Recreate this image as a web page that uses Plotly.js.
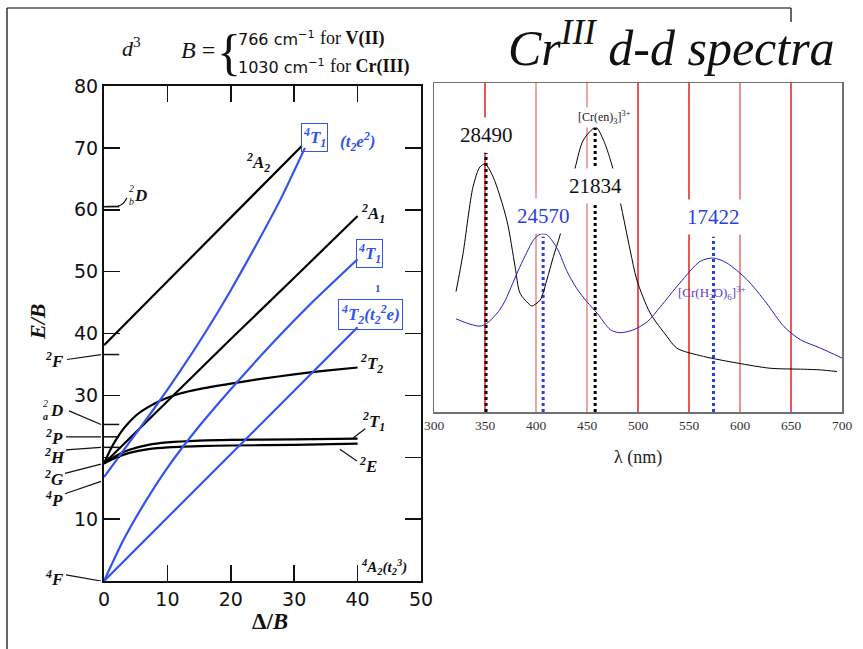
<!DOCTYPE html>
<html><head><meta charset="utf-8">
<script src="https://cdn.plot.ly/plotly-3.0.1.min.js"></script>
<style>html,body{margin:0;padding:0;background:#fff;}#chart{width:863px;height:649px;}</style>
</head><body><div id="chart"></div>
<script>
// ---------- Tanabe–Sugano d3 diagram (x = Δ/B, y = E/B) ----------
const a2_2X = [0, 31.2];
const a2_2E = [38.1, 70.3];
const t1p_4X = [0, 4, 8, 12, 16, 20, 24, 28, 31.7];
const t1p_4E = [16.8, 22.4, 28.0, 33.9, 40.2, 47.0, 54.3, 62.0, 70.0];
const a1_2X = [0, 10, 20, 30, 40];
const a1_2E = [19, 29.1, 39.1, 49, 59];
const t1f_4X = [0, 3, 6.7, 10, 15, 20, 27, 33, 40];
const t1f_4E = [0, 6.5, 13.1, 18.3, 25, 31, 38.9, 45.2, 52];
const t2_4X = [0, 40];
const t2_4E = [0, 41];
const t2_2X = [0, 1, 2, 3, 4, 5, 6, 8, 10, 12, 15, 20, 25, 30, 35, 40];
const t2_2E = [19, 21.2, 23.0, 24.5, 25.7, 26.7, 27.5, 28.7, 29.6, 30.3, 31.0, 31.9, 32.7, 33.4, 34.0, 34.5];
const t1_2X = [0, 2, 4, 7, 10, 15, 20, 30, 40];
const t1_2E = [19, 20.3, 21.2, 22, 22.4, 22.7, 22.8, 22.9, 23.0];
const e_2X = [0, 2, 4, 7, 10, 15, 20, 30, 40];
const e_2E = [19, 20, 20.7, 21.3, 21.6, 21.8, 21.9, 22, 22.2];
// free-ion terms at Δ = 0
const termNames = ['<sup>2</sup>F', 'D', '<sup>2</sup>P', '<sup>2</sup>H', '<sup>2</sup>G', '<sup>4</sup>P', '<sup>4</sup>F'];
const termE = [36.6, 25.3, 23.3, 21.6, 18.9, 16.1, 0];
const term2bD_E = 60.5;
const tsXTicks = [0, 10, 20, 30, 40, 50];
const tsYTicks = [0, 10, 20, 30, 40, 50, 60, 70, 80];
const tsYTickText = ['', '10', '', '30', '40', '50', '60', '70', '80'];

// ---------- Absorption spectra (λ in nm, arbitrary absorbance units) ----------
const enNm = [321.6, 328.5, 338.3, 345.1, 350, 357.9, 371.3, 379.5, 384.4, 394.2, 395.9, 404, 410.6, 417, 423.6, 438.3, 446.5, 458.6, 466.1, 475.3, 482.5, 492.3, 498.9, 511.9, 528.3, 538.1, 564.2, 597, 629.6, 662.3, 678.7, 695.1];
const enAbs = [36.6, 48.2, 68.5, 74.5, 75.4, 71.5, 58.4, 44.2, 36.1, 32.5, 32.2, 34, 40.1, 47.2, 53.8, 74.1, 82.7, 86.5, 82.7, 74.1, 64, 49.2, 40.1, 30.1, 23, 19.4, 16.9, 14.9, 13.3, 13, 12.8, 12.3];
const aqNm = [321.6, 335.3, 345.1, 351.7, 363.1, 370, 377, 384, 391, 398, 404, 410, 416, 422, 430, 440, 450, 460, 473, 482, 495, 509, 522, 541, 561, 574, 587, 607, 626, 643, 659, 679, 700];
const aqAbs = [28.3, 26.7, 26.1, 26.9, 30.5, 34, 39, 44, 48.5, 52.5, 54, 54, 52, 49, 43, 37.5, 33.5, 30, 25, 24.1, 24.9, 27.4, 32, 39.2, 45.8, 46.8, 45.3, 40.2, 33.1, 26, 22, 19.4, 16.4];
const gridNm = [350, 400, 450, 500, 550, 600, 650];
const peakWN = [28490, 21834, 24570, 17422];
const peakTop = [78.7, 86.6, 53.3, 53.3];
const peakLabelY = [84.2, 68.7, 59.6, 59.3];
const specXTicks = [300, 350, 400, 450, 500, 550, 600, 650, 700];

// ---------- styling ----------
const W = 863, H = 649;
const px = v => v / W, py = v => 1 - v / H;
const BLK = '#000000', BLU = '#3153ee';
const gridCol = ['#e01010', '#e88080', '#e88080', '#e01010', '#e01010', '#e86060', '#e01010'];
const peakCol = ['#000000', '#000000', '#2a3fdd', '#2a3fdd'];
const peakLabCol = ['#111111', '#111111', '#2a3fdd', '#2a3fdd'];

const traces = [];
function ts(x, y, c, sm) { traces.push({x: x, y: y, mode: 'lines', line: {color: c, width: 2.2, shape: sm ? 'spline' : 'linear', smoothing: 0.5}, xaxis: 'x', yaxis: 'y', hoverinfo: 'skip', showlegend: false}); }
ts(a2_2X, a2_2E, BLK); ts(a1_2X, a1_2E, BLK); ts(t2_2X, t2_2E, BLK, 1); ts(t1_2X, t1_2E, BLK, 1); ts(e_2X, e_2E, BLK, 1);
ts(t1p_4X, t1p_4E, BLU, 1); ts(t1f_4X, t1f_4E, BLU, 1); ts(t2_4X, t2_4E, BLU);

gridNm.forEach((n, i) => traces.push({x: [n, n], y: [0, 100], mode: 'lines', line: {color: gridCol[i], width: 1.4}, xaxis: 'x2', yaxis: 'y2', hoverinfo: 'skip', showlegend: false}));
peakWN.forEach((w, i) => { const n = 1e7 / w; traces.push({x: [n, n], y: [0, peakTop[i]], mode: 'lines', line: {color: peakCol[i], width: 3, dash: 'dot'}, xaxis: 'x2', yaxis: 'y2', hoverinfo: 'skip', showlegend: false}); });
traces.push({x: enNm, y: enAbs, mode: 'lines', line: {color: '#000', width: 1, shape: 'spline', smoothing: 0.8}, xaxis: 'x2', yaxis: 'y2', hoverinfo: 'skip', showlegend: false});
traces.push({x: aqNm, y: aqAbs, mode: 'lines', line: {color: '#2020c8', width: 1, shape: 'spline', smoothing: 0.8}, xaxis: 'x2', yaxis: 'y2', hoverinfo: 'skip', showlegend: false});

const SERIF = 'Liberation Serif, Times New Roman, serif';
const SANS = 'DejaVu Sans, sans-serif';
const ann = [];
function A(o) { ann.push(Object.assign({showarrow: false, xanchor: 'center', yanchor: 'middle'}, o)); }

// header
A({xref: 'paper', yref: 'paper', x: px(131), y: py(47), text: '<i>d</i><sup>3</sup>', font: {family: SERIF, size: 22, color: '#111'}});
A({xref: 'paper', yref: 'paper', x: px(198), y: py(50), text: '<i>B</i> =', font: {family: SERIF, size: 24, color: '#111'}});
A({xref: 'paper', yref: 'paper', x: px(229), y: py(52), text: '{', font: {family: 'Liberation Serif', size: 50, color: '#111'}});
A({xref: 'paper', yref: 'paper', x: px(236), y: py(38), xanchor: 'left', text: '766 cm<sup>−1</sup>', font: {family: SANS, size: 16, color: '#111'}});
A({xref: 'paper', yref: 'paper', x: px(318), y: py(38), xanchor: 'left', text: 'for <b>V(II)</b>', font: {family: SERIF, size: 18, color: '#111'}});
A({xref: 'paper', yref: 'paper', x: px(236), y: py(67), xanchor: 'left', text: '1030 cm<sup>−1</sup>', font: {family: SANS, size: 16, color: '#111'}});
A({xref: 'paper', yref: 'paper', x: px(328), y: py(67), xanchor: 'left', text: 'for <b>Cr(III)</b>', font: {family: SERIF, size: 18, color: '#111'}});
// title
A({xref: 'paper', yref: 'paper', x: px(671), y: py(45), text: '<i>Cr<sup>III</sup> d-d spectra</i>', font: {family: SERIF, size: 50, color: '#111'}});

// left-plot axis titles
A({xref: 'paper', yref: 'paper', x: px(37), y: py(322), textangle: -90, text: '<b><i>E/B</i></b>', font: {family: SERIF, size: 22, color: '#111'}});
A({xref: 'paper', yref: 'paper', x: px(270), y: py(621), text: '<b>Δ/<i>B</i></b>', font: {family: SERIF, size: 23, color: '#111'}});

// state labels inside TS diagram
const LF = {family: SERIF, size: 17, color: '#111'};
const LFB = {family: SERIF, size: 17, color: BLU};
A({x: 24.3, y: 67.6, text: '<b><i><sup>2</sup>A<sub>2</sub></i></b>', font: LF});
A({x: 33.2, y: 71.6, text: '<b><i><sup>4</sup>T<sub>1</sub></i></b>', font: LFB, bordercolor: BLU, borderwidth: 1, borderpad: 1});
A({x: 40.0, y: 71.0, text: '<b><i>(t<sub>2</sub>e<sup>2</sup>)</i></b>', font: LFB});
A({x: 42.4, y: 59.4, text: '<b><i><sup>2</sup>A<sub>1</sub></i></b>', font: LF});
A({x: 41.9, y: 52.9, text: '<b><i><sup>4</sup>T<sub>1</sub></i></b>', font: LFB, bordercolor: BLU, borderwidth: 1, borderpad: 1});
A({x: 43.2, y: 47.4, text: '<b>1</b>', font: {family: SERIF, size: 11, color: BLU}});
A({x: 42.0, y: 43.1, text: '<b><i><sup>4</sup>T<sub>2</sub>(t<sub>2</sub><sup>2</sup>e)</i></b>', font: LFB, bordercolor: BLU, borderwidth: 1, borderpad: 2});
A({x: 42.2, y: 35.2, text: '<b><i><sup>2</sup>T<sub>2</sub></i></b>', font: LF});
A({x: 42.5, y: 25.7, text: '<b><i><sup>2</sup>T<sub>1</sub></i></b>', font: LF});
A({x: 41.6, y: 18.8, text: '<b><i><sup>2</sup>E</i></b>', font: LF});
A({x: 44.2, y: 2.2, text: '<b><i><sup>4</sup>A<sub>2</sub>(t<sub>2</sub><sup>3</sup>)</i></b>', font: {family: SERIF, size: 15, color: '#111'}});
// ²bD near the top of the axis
A({x: 5.8, y: 62.3, text: '<b><i>D</i></b>', font: LF});
A({x: 4.3, y: 63.5, text: '<i>2</i>', font: {family: SERIF, size: 10, color: '#111'}});
A({x: 4.3, y: 61.3, text: '<i>b</i>', font: {family: SERIF, size: 10, color: '#111'}});

// free-ion term labels left of axis
const termPy = [360, 410, 437, 456, 478, 499, 578];
termNames.forEach((t, i) => A({xref: 'paper', yref: 'paper', x: px(i === 1 ? 57 : 54), y: py(termPy[i]), text: '<b><i>' + t + '</i></b>', font: LF}));
A({xref: 'paper', yref: 'paper', x: px(45), y: py(403), text: '<i>2</i>', font: {family: SERIF, size: 10, color: '#111'}});
A({xref: 'paper', yref: 'paper', x: px(45), y: py(416), text: '<b><i>a</i></b>', font: {family: SERIF, size: 10, color: '#111'}});

// spectrum labels
const peakLabelText = ['28490', '21834', '24570', '17422'];
peakWN.forEach((w, i) => A({xref: 'x2', yref: 'y2', x: 1e7 / w, y: peakLabelY[i], text: peakLabelText[i], font: {family: SERIF, size: 21, color: peakLabCol[i]}, bgcolor: '#fff', borderpad: 5}));
A({xref: 'x2', yref: 'y2', x: 466.8, y: 89.6, text: '[Cr(en)<sub>3</sub>]<sup>3+</sup>', font: {family: SERIF, size: 12, color: '#222'}, bgcolor: '#fff', borderpad: 1});
A({xref: 'x2', yref: 'y2', x: 572.5, y: 36.3, text: '[Cr(H<sub>2</sub>O)<sub>6</sub>]<sup>3+</sup>', font: {family: SERIF, size: 13, color: '#5a3bd2'}});
A({xref: 'paper', yref: 'paper', x: px(638), y: py(457), text: 'λ (nm)', font: {family: SERIF, size: 18, color: '#222'}});

// shapes: leader lines and free-ion level marks
const shapes = [];
function L(xref, yref, x0, y0, x1, y1, c, w) { shapes.push({type: 'line', xref: xref, yref: yref, x0: x0, y0: y0, x1: x1, y1: y1, line: {color: c || '#111', width: w || 1.2}}); }
const leadStart = [[67, 35.8], [69, 27.5], [66, 23.3], [66, 21.2], [65, 17.4], [65, 14.1], [66, 1.0]];
termE.forEach((e, i) => { L('paper', 'y', px(leadStart[i][0]), leadStart[i][1], px(101), e); });
[term2bD_E, 36.6, 25.3, 23.3, 21.6].forEach(e => L('x', 'y', 0, e, 2.4, e, '#111', 1.5));
shapes.push({type: 'path', xref: 'x', yref: 'y', path: 'M 0.3,60.5 L 2.2,60.6 Q 3.0,60.7 3.6,61.9', line: {color: '#111', width: 1.2}});
L('x', 'y', 39.3, 23.1, 41.2, 24.6);
L('x', 'y', 37.2, 21.3, 39.9, 19.4);
// slide frame
L('paper', 'paper', px(7), py(8), px(791), py(8), '#000', 1.2);
L('paper', 'paper', px(7), py(8), px(7), 0, '#000', 1.2);
L('paper', 'paper', px(791), py(8), px(791), py(22), '#000', 1.2);

const layout = {
  width: W, height: H, margin: {l: 0, r: 0, t: 0, b: 0},
  paper_bgcolor: '#fff', plot_bgcolor: 'rgba(0,0,0,0)', showlegend: false,
  xaxis: {domain: [px(104), px(421)], range: [0, 50], tickvals: tsXTicks, ticks: 'inside', ticklen: 16, tickwidth: 1.5, tickcolor: '#111',
    showline: true, linecolor: '#111', linewidth: 2, mirror: 'ticks', showgrid: false, zeroline: false, anchor: 'y',
    tickfont: {family: SANS, size: 19, color: '#111'}, fixedrange: true},
  yaxis: {domain: [py(581), py(86)], range: [0, 80], tickvals: tsYTicks, ticktext: tsYTickText, ticks: 'inside', ticklen: 16, tickwidth: 1.5, tickcolor: '#111',
    showline: true, linecolor: '#111', linewidth: 2, mirror: 'ticks', showgrid: false, zeroline: false, anchor: 'x',
    tickfont: {family: SANS, size: 19, color: '#111'}, fixedrange: true},
  xaxis2: {domain: [px(434), px(842)], range: [300, 700], tickvals: specXTicks, ticks: '', showline: true, linecolor: '#707070', linewidth: 1.5, mirror: true,
    showgrid: false, zeroline: false, anchor: 'y2', tickfont: {family: SERIF, size: 13.5, color: '#333'}, fixedrange: true},
  yaxis2: {domain: [py(412), py(83)], range: [0, 100], showticklabels: false, ticks: '', showline: true, linecolor: '#707070', linewidth: 1.5, mirror: true,
    showgrid: false, zeroline: false, anchor: 'x2', fixedrange: true},
  annotations: ann, shapes: shapes
};
Plotly.newPlot('chart', traces, layout, {staticPlot: true, displayModeBar: false});
</script></body></html>
